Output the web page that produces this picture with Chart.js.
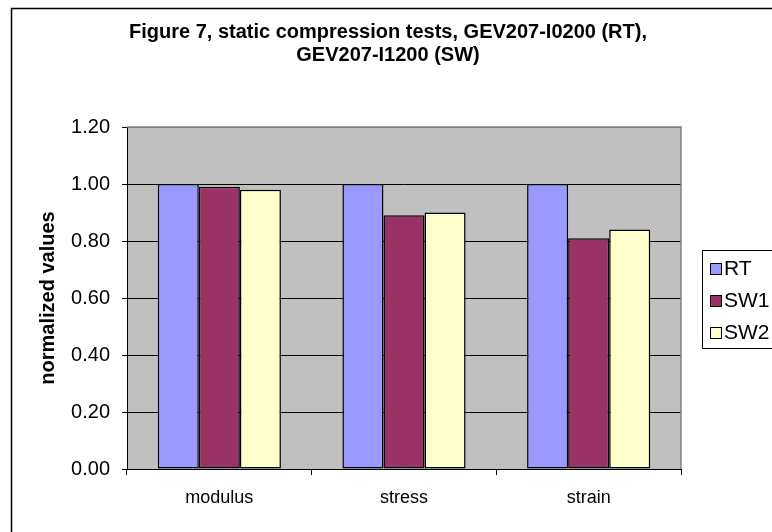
<!DOCTYPE html>
<html>
<head>
<meta charset="utf-8">
<script src="https://cdn.jsdelivr.net/npm/chart.js@4.4.0/dist/chart.umd.min.js"></script>
<style>
  body { margin: 0; background: #fff; }
  #wrap { width: 772px; height: 532px; position: relative; overflow: hidden; }
</style>
</head>
<body>
<div id="wrap"><canvas id="chart7" width="772" height="532"></canvas></div>
<script>
var categories = ['modulus', 'stress', 'strain'];
var seriesNames = ['RT', 'SW1', 'SW2'];
var rtValues = [1.00, 1.00, 1.00];
var sw1Values = [0.99, 0.89, 0.81];
var sw2Values = [0.98, 0.90, 0.84];
var titleLines = ['Figure 7, static compression tests, GEV207-I0200 (RT),', 'GEV207-I1200 (SW)'];
var yTitle = 'normalized values';

var barColors = ['#9999FF', '#993366', '#FFFFCC'];

// plot background, grey frame, outer border, title, legend box
var frame = {
    id: 'frame',
    beforeDraw: function(chart) {
        var c = chart.ctx, a = chart.chartArea;
        c.save();
        c.fillStyle = '#fff';
        c.fillRect(0, 0, chart.width, chart.height);
        c.strokeStyle = '#000';
        c.lineWidth = 1.5;
        c.strokeRect(11.5, 8.5, 900, 700);
        c.fillStyle = '#C0C0C0';
        c.fillRect(a.left, a.top, a.right - a.left, a.bottom - a.top);
        c.fillStyle = '#000';
        c.font = 'bold 20px "Liberation Sans", Arial, sans-serif';
        c.textAlign = 'center';
        c.textBaseline = 'middle';
        c.fillText(titleLines[0], 388, 32);
        c.fillText(titleLines[1], 388, 55);
        c.restore();
    },
    beforeDatasetsDraw: function(chart) {
        var c = chart.ctx, a = chart.chartArea;
        c.save();
        c.strokeStyle = '#808080';
        c.lineWidth = 1.5;
        c.beginPath();
        c.moveTo(a.left, a.top);
        c.lineTo(a.right, a.top);
        c.lineTo(a.right, a.bottom);
        c.stroke();
        c.restore();
    },
    afterDraw: function(chart) {
        var c = chart.ctx;
        c.save();
        c.fillStyle = '#fff';
        c.fillRect(702.5, 250.5, 100, 98);
        c.strokeStyle = '#000';
        c.lineWidth = 1;
        c.strokeRect(702.5, 250.5, 100, 98);
        c.font = '21px "Liberation Sans", Arial, sans-serif';
        c.textBaseline = 'middle';
        chart.data.datasets.forEach(function(ds, i) {
            var y = 268 + i * 32;
            c.fillStyle = ds.backgroundColor;
            c.fillRect(710, y - 5, 11, 11);
            c.strokeRect(710.5, y - 4.5, 11, 11);
            c.fillStyle = '#000';
            c.fillText(ds.label, 724, y + 1);
        });
        c.restore();
    }
};

new Chart(document.getElementById('chart7'), {
    type: 'bar',
    data: {
        labels: categories,
        datasets: [
            { label: seriesNames[0], data: rtValues, backgroundColor: barColors[0] },
            { label: seriesNames[1], data: sw1Values, backgroundColor: barColors[1] },
            { label: seriesNames[2], data: sw2Values, backgroundColor: barColors[2] }
        ]
    },
    options: {
        responsive: false,
        animation: false,
        layout: { padding: { top: 127, right: 91, left: 0, bottom: 0 } },
        datasets: {
            bar: {
                categoryPercentage: 0.667,
                barPercentage: 1,
                borderColor: '#000',
                borderWidth: 1.5,
                borderSkipped: false
            }
        },
        plugins: {
            legend: { display: false },
            title: { display: false },
            tooltip: { enabled: false }
        },
        scales: {
            x: {
                afterFit: function(s) { s.height = 63; },
                grid: { drawOnChartArea: false, drawTicks: true, tickLength: 6, color: '#000', offset: true },
                border: { color: '#000', width: 1 },
                ticks: {
                    color: '#000',
                    padding: 12,
                    font: { family: '"Liberation Sans", Arial, sans-serif', size: 18 }
                }
            },
            y: {
                min: 0,
                max: 1.2,
                afterFit: function(s) { s.width = 127; },
                grid: {
                    color: function(ctx) { return ctx.tick && ctx.tick.value >= 1.19 ? '#808080' : '#000'; },
                    tickColor: '#000',
                    tickLength: 5
                },
                border: { color: '#000', width: 1 },
                ticks: {
                    stepSize: 0.2,
                    color: '#000',
                    padding: 12,
                    font: { family: '"Liberation Sans", Arial, sans-serif', size: 20 },
                    callback: function(v) { return Number(v).toFixed(2); }
                },
                title: {
                    display: true,
                    text: yTitle,
                    color: '#000',
                    padding: { top: 36, bottom: 0 },
                    font: { family: '"Liberation Sans", Arial, sans-serif', size: 20, weight: 'bold' }
                }
            }
        }
    },
    plugins: [frame]
});
</script>
</body>
</html>
